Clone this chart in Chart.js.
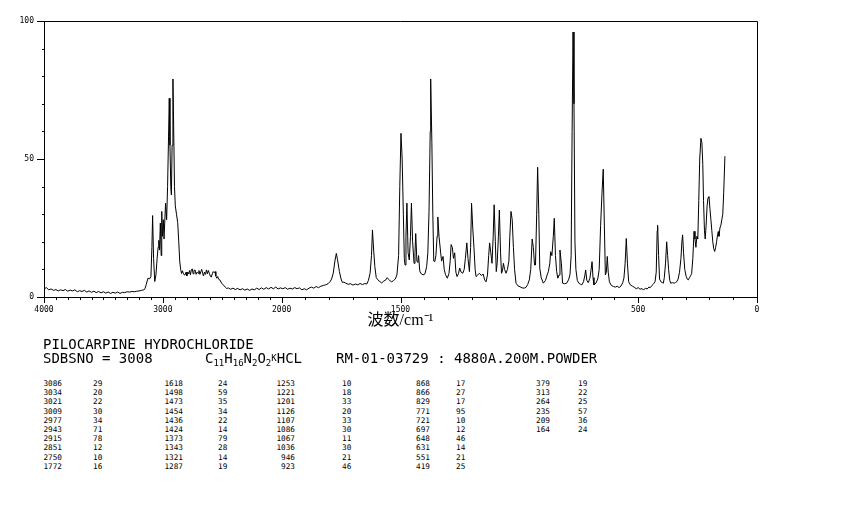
<!DOCTYPE html>
<html lang="ja">
<head>
  <meta charset="UTF-8">
  <title>PILOCARPINE HYDROCHLORIDE Raman</title>
  <script src="https://cdn.jsdelivr.net/npm/chart.js"></script>
  <style>
    body {
      margin: 0;
      background: #fff;
      width: 850px;
      height: 510px;
      position: relative;
      overflow: hidden;
      font-family: 'DejaVu Sans Mono', monospace;
      color: #000;
    }
    #chartBox {
      position: absolute;
      left: 0;
      top: 0;
      width: 850px;
      height: 340px;
    }
    .line {
      position: absolute;
      font-size: 14px;
      line-height: 1;
      white-space: pre;
    }
    .small {
      font-size: 9px;
      position: relative;
    }
    .col {
      position: absolute;
      font-size: 7.7px;
      line-height: 9.2px;
      white-space: pre;
    }
  </style>
</head>
<body>
  <div id="chartBox"><canvas id="spectrum"></canvas></div>

  <div class="line" style="left:43px; top:337px;">PILOCARPINE HYDROCHLORIDE</div>
  <div class="line" style="left:43px; top:351px;">SDBSNO = 3008</div>
  <div class="line" style="left:205px; top:351px;">C<span class="small" style="top:3px;">11</span>H<span class="small" style="top:3px;">16</span>N<span class="small" style="top:3px;">2</span>O<span class="small" style="top:3px;">2</span><span class="small" style="top:-2px;">K</span>HCL</div>
  <div class="line" style="left:336px; top:351px;">RM-01-03729 : 4880A.200M.POWDER</div>
  <div id="peakTable"></div>

  <script>
    // Raman-Spektrum, Werte (cm-1 / relative Intensität)
    const wavenumbers = [
      4000, 3980, 3960, 3940, 3920, 3900, 3880, 3860, 3840, 3820, 3800, 3780, 3760, 3740, 3720, 3700,
      3680, 3660, 3640, 3620, 3600, 3580, 3560, 3540, 3520, 3500, 3480, 3460, 3440, 3420, 3400, 3380,
      3360, 3340, 3320, 3300, 3280, 3260, 3240, 3220, 3200, 3180, 3160, 3150, 3140, 3125, 3110, 3100,
      3092, 3086, 3078, 3068, 3058, 3048, 3040, 3034, 3028, 3021, 3014, 3009, 3004, 2996, 2990, 2977,
      2968, 2960, 2952, 2946, 2940, 2933, 2928, 2922, 2915, 2909, 2902, 2895, 2885, 2875, 2866, 2858,
      2850, 2842, 2835, 2828, 2820, 2813, 2805, 2798, 2790, 2782, 2775, 2768, 2760, 2752, 2745, 2738,
      2729, 2720, 2712, 2704, 2696, 2688, 2680, 2673, 2665, 2658, 2650, 2641, 2633, 2625, 2617, 2609,
      2600, 2592, 2584, 2576, 2568, 2561, 2554, 2546, 2538, 2530, 2520, 2505, 2490, 2475, 2463, 2450,
      2430, 2410, 2390, 2370, 2350, 2330, 2310, 2290, 2270, 2250, 2230, 2210, 2190, 2170, 2150, 2130,
      2110, 2090, 2070, 2050, 2030, 2010, 1995, 1985, 1975, 1965, 1955, 1945, 1935, 1925, 1915, 1905,
      1895, 1885, 1875, 1865, 1855, 1845, 1835, 1825, 1815, 1805, 1797, 1790, 1783, 1776, 1770, 1765,
      1757, 1750, 1745, 1738, 1730, 1720, 1710, 1700, 1690, 1680, 1670, 1660, 1650, 1642, 1635, 1628,
      1622, 1618, 1613, 1608, 1602, 1595, 1587, 1579, 1570, 1562, 1556, 1550, 1543, 1537, 1530, 1522,
      1515, 1508, 1503, 1498, 1493, 1488, 1484, 1481, 1477, 1473, 1468, 1463, 1458, 1454, 1449, 1443,
      1439, 1436, 1431, 1427, 1424, 1419, 1415, 1405, 1397, 1390, 1385, 1380, 1375, 1373, 1368, 1364,
      1360, 1356, 1351, 1346, 1343, 1338, 1331, 1327, 1321, 1316, 1311, 1303, 1296, 1291, 1287, 1282,
      1277, 1272, 1267, 1262, 1256, 1251, 1245, 1238, 1232, 1227, 1221, 1216, 1210, 1205, 1201, 1196,
      1191, 1186, 1182, 1175, 1168, 1160, 1152, 1146, 1140, 1134, 1129, 1125, 1120, 1115, 1110, 1106,
      1101, 1097, 1093, 1088, 1084, 1079, 1075, 1071, 1067, 1062, 1056, 1050, 1044, 1040, 1035, 1030,
      1025, 1020, 1014, 1005, 997, 988, 980, 972, 965, 958, 952, 946, 941, 936, 932, 927,
      923, 918, 914, 908, 899, 890, 883, 878, 872, 868, 863, 857, 853, 848, 843, 838,
      833, 829, 823, 818, 810, 801, 793, 787, 782, 778, 774, 770, 766, 762, 756, 750,
      742, 737, 730, 724, 721, 716, 710, 703, 698, 694, 690, 686, 678, 670, 664, 658,
      652, 647, 642, 638, 634, 630, 626, 621, 613, 604, 596, 588, 580, 572, 565, 560,
      555, 550, 545, 540, 532, 524, 516, 508, 500, 492, 484, 478, 470, 462, 455, 449,
      442, 435, 429, 424, 420, 418, 414, 410, 404, 398, 394, 390, 385, 380, 376, 372,
      367, 363, 356, 348, 342, 338, 332, 326, 320, 316, 313, 309, 304, 298, 293, 289,
      284, 279, 275, 270, 265, 261, 257, 253, 249, 245, 241, 236, 232, 228, 225, 221,
      218, 214, 210, 206, 202, 198, 194, 190, 186, 182, 178, 174, 170, 166, 163, 160,
      156, 152, 148, 144, 140, 135
    ];
    const intensities = [
      2.9, 3.4, 2.6, 2.9, 2.4, 2.7, 2.2, 2.6, 2.3, 2.7, 2.1, 2.5, 2.2, 2.6, 1.9, 2.3,
      2.0, 2.4, 1.8, 2.2, 1.7, 2.1, 1.6, 2.0, 1.5, 1.9, 1.4, 1.8, 1.3, 1.7, 1.4, 1.8,
      1.3, 1.7, 1.6, 1.9, 1.8, 2.0, 1.9, 2.1, 2.2, 2.4, 2.6, 3.0, 4.5, 6.8, 6.6, 7.5,
      18, 29.5, 14, 5.6, 8, 14, 18, 20.5, 17, 26.8, 15, 31, 22, 28, 21, 34,
      28, 40, 58, 72, 55, 40, 37, 55, 79, 62, 40, 33, 30, 27, 20, 13,
      10, 8.5, 9.5, 8.6, 8.0, 8.0, 9.0, 7.6, 9.0, 8.4, 9.6, 8.0, 9.8, 10.2, 8.4, 9.6,
      9.8, 8.2, 9.0, 8.6, 9.6, 8.2, 9.2, 10.0, 8.6, 7.6, 9.0, 8.2, 9.8, 8.4, 9.6, 8.6,
      7.6, 7.2, 8.4, 9.2, 8.8, 9.2, 7.6, 6.8, 7.4, 6.4, 6.2, 5.0, 4.3, 3.6, 3.1, 3.3,
      2.8, 3.2, 2.7, 3.1, 2.6, 3.0, 2.5, 2.9, 2.4, 2.9, 2.6, 3.2, 2.7, 3.3, 2.8, 3.4,
      2.9, 3.5, 3.0, 3.6, 2.9, 3.3, 3.0, 3.4, 2.8, 3.2, 2.9, 3.4, 3.0, 3.3, 2.6, 3.0,
      2.6, 3.2, 3.6, 3.2, 3.8, 3.4, 3.9, 4.2, 4.4, 4.8, 5.5, 6.5, 8.6, 13, 15.8, 13.5,
      9.2, 6.5, 5.3, 5.4, 5.0, 4.6, 4.8, 4.3, 4.7, 4.4, 4.9, 4.5, 4.9, 4.7, 6.0, 8.6,
      15, 24.3, 17, 11, 7, 6.2, 5.6, 5.1, 5.8, 6.2, 7.0, 6.4, 5.8, 5.5, 5.9, 6.5,
      8.0, 15, 40, 59.3, 50, 30, 14, 11.6, 22, 34, 16, 13.4, 22, 34, 20, 12.2,
      16, 23, 13, 12.5, 15, 9.5, 8.6, 8.0, 8.4, 11, 16, 31, 60, 79, 56, 30,
      13, 12.8, 15, 22, 29, 22, 16, 13, 14.7, 10, 8.2, 6.8, 8.5, 13, 19, 18,
      14, 16, 9, 7.4, 8.5, 10.5, 9.0, 8.6, 10, 14, 19.6, 14, 9.2, 18, 34, 25,
      18, 10, 7.4, 8.0, 8.6, 7.8, 8.3, 6.2, 5.5, 8, 15, 19.6, 16, 12.2, 22, 33.4,
      20, 9.2, 12.5, 22, 31.5, 16, 8.6, 9.5, 12.2, 10, 8.6, 10, 13, 22, 31, 28,
      18, 10, 5.0, 4.0, 3.7, 3.3, 3.2, 3.5, 4.5, 6.2, 10, 21, 18, 11.6, 11.6, 30,
      47, 30, 10.4, 7, 5, 6, 8, 9.2, 12, 16.4, 15, 22, 28.5, 15, 9.2, 6.8,
      8, 17, 12, 5, 4.8, 5, 6.2, 8, 15, 60, 96, 70, 20, 10, 6, 5,
      4.6, 4.4, 5.5, 8, 9.8, 6, 5.2, 6.8, 10, 12.8, 7, 4.4, 5, 6.5, 10, 26,
      38, 46.3, 25, 8, 9, 14.7, 9, 5.5, 4.2, 3.8, 3.6, 3.9, 3.4, 4.0, 5.2, 6.8,
      12, 21.2, 12, 5.5, 4.3, 3.9, 3.5, 3.0, 3.4, 2.8, 3.1, 2.5, 3.2, 2.9, 3.6, 3.4,
      4.2, 4.8, 5.5, 9, 24, 26, 15, 6.5, 5.5, 5.2, 5, 7, 12, 20, 15, 10,
      6, 5, 5.2, 5.0, 5.3, 5.5, 6.5, 9, 14, 20, 22.5, 16, 10, 7.5, 6.4, 6.2,
      7.0, 7.8, 8.5, 14, 23.8, 21, 18, 22, 21, 35, 50, 57.5, 56, 48, 35, 24,
      21, 26, 33, 36, 36.4, 32, 28, 24, 20, 17.5, 16.5, 18, 20, 22.5, 23.7, 22,
      25, 26, 28, 30, 38, 51
    ];

    const xTickLabels = [4000, 3000, 2000, 1500, 500, 0];
    const yTickLabels = [0, 50, 100];

    // Peakliste (wie unter dem Spektrum gedruckt)
    const peakWavenumbers = [
      3086, 3034, 3021, 3009, 2977, 2943, 2915, 2851, 2750, 1772,
      1618, 1498, 1473, 1454, 1436, 1424, 1373, 1343, 1321, 1287,
      1253, 1221, 1201, 1126, 1107, 1086, 1067, 1036, 946, 923,
      868, 866, 829, 771, 721, 697, 648, 631, 551, 419,
      379, 313, 264, 235, 209, 164
    ];
    const peakIntensities = [
      29, 20, 22, 30, 34, 71, 78, 12, 10, 16,
      24, 59, 35, 34, 22, 14, 79, 28, 14, 19,
      10, 18, 33, 20, 33, 30, 11, 30, 21, 46,
      17, 27, 17, 95, 10, 12, 46, 14, 21, 25,
      19, 22, 25, 57, 36, 24
    ];

    // 4000-2000 halber Maßstab, 2000-0 voller Maßstab
    function toAxis(w) {
      return w >= 2000 ? (4000 - w) / 2 : 3000 - w;
    }
    function fromAxis(u) {
      return u <= 1000 ? 4000 - 2 * u : 3000 - u;
    }

    const tickFont = { family: 'DejaVu Sans Mono', size: 8 };

    const frameAndTicks = {
      id: 'frameAndTicks',
      afterDraw(chart) {
        const ctx = chart.ctx;
        const ca = chart.chartArea;
        const xs = chart.scales.x;
        const ys = chart.scales.y;
        ctx.save();
        ctx.strokeStyle = '#000';
        ctx.lineWidth = 1;
        ctx.beginPath();
        ctx.moveTo(ca.left, ca.top + 0.5);
        ctx.lineTo(ca.right + 0.5, ca.top + 0.5);
        ctx.lineTo(ca.right + 0.5, ca.bottom);
        for (let w = 4000; w >= 0; w -= 100) {
          const x = Math.round(xs.getPixelForValue(toAxis(w))) + 0.5;
          const len = xTickLabels.includes(w) ? 6 : 3;
          ctx.moveTo(x, ca.bottom);
          ctx.lineTo(x, ca.bottom + len);
        }
        for (let v = 0; v <= 100; v += 10) {
          const y = Math.round(ys.getPixelForValue(v)) + 0.5;
          const len = yTickLabels.includes(v) ? 7 : 2;
          ctx.moveTo(ca.left - len, y);
          ctx.lineTo(ca.left, y);
        }
        ctx.stroke();
        ctx.restore();
      }
    };

    new Chart(document.getElementById('spectrum'), {
      type: 'line',
      data: {
        datasets: [{
          data: wavenumbers.map((w, i) => ({ x: toAxis(w), y: intensities[i] })),
          borderColor: '#000',
          borderWidth: 1,
          pointRadius: 0,
          tension: 0,
          fill: false
        }]
      },
      options: {
        animation: false,
        responsive: true,
        maintainAspectRatio: false,
        layout: { padding: { top: 21, right: 93, left: 0, bottom: 0 } },
        plugins: {
          legend: { display: false },
          tooltip: { enabled: false }
        },
        scales: {
          x: {
            type: 'linear',
            min: 0,
            max: 3000,
            afterBuildTicks: (scale) => {
              scale.ticks = xTickLabels.map(w => ({ value: toAxis(w) }));
            },
            afterFit: (scale) => { scale.height = 43; },
            ticks: {
              autoSkip: false,
              maxRotation: 0,
              padding: 8,
              color: '#000',
              font: tickFont,
              callback: (value) => String(fromAxis(value))
            },
            grid: { drawOnChartArea: false, drawTicks: false },
            border: { color: '#000' },
            title: {
              display: true,
              text: '波数/cm⁻¹',
              color: '#000',
              font: { family: "'Liberation Serif', 'Noto Sans CJK JP'", size: 16 },
              padding: { top: 0, bottom: 10 }
            }
          },
          y: {
            min: 0,
            max: 100,
            afterBuildTicks: (scale) => {
              scale.ticks = yTickLabels.map(v => ({ value: v }));
            },
            afterFit: (scale) => { scale.width = 44; },
            ticks: {
              padding: 10,
              color: '#000',
              font: tickFont
            },
            grid: { drawOnChartArea: false, drawTicks: false },
            border: { color: '#000' }
          }
        }
      },
      plugins: [frameAndTicks]
    });

    // Peaktabelle: 10 Zeilen je Spalte
    const colRight = [62, 183, 295, 430, 550];
    const colIntLeft = [93, 218, 342, 456, 578];
    const table = document.getElementById('peakTable');
    for (let c = 0; c < colRight.length; c++) {
      const ws = peakWavenumbers.slice(c * 10, c * 10 + 10);
      const is = peakIntensities.slice(c * 10, c * 10 + 10);
      const wDiv = document.createElement('div');
      wDiv.className = 'col';
      wDiv.style.left = (colRight[c] - 40) + 'px';
      wDiv.style.width = '40px';
      wDiv.style.textAlign = 'right';
      wDiv.style.top = '379px';
      wDiv.textContent = ws.join('\n');
      const iDiv = document.createElement('div');
      iDiv.className = 'col';
      iDiv.style.left = colIntLeft[c] + 'px';
      iDiv.style.top = '379px';
      iDiv.textContent = is.join('\n');
      table.appendChild(wDiv);
      table.appendChild(iDiv);
    }
  </script>
</body>
</html>
